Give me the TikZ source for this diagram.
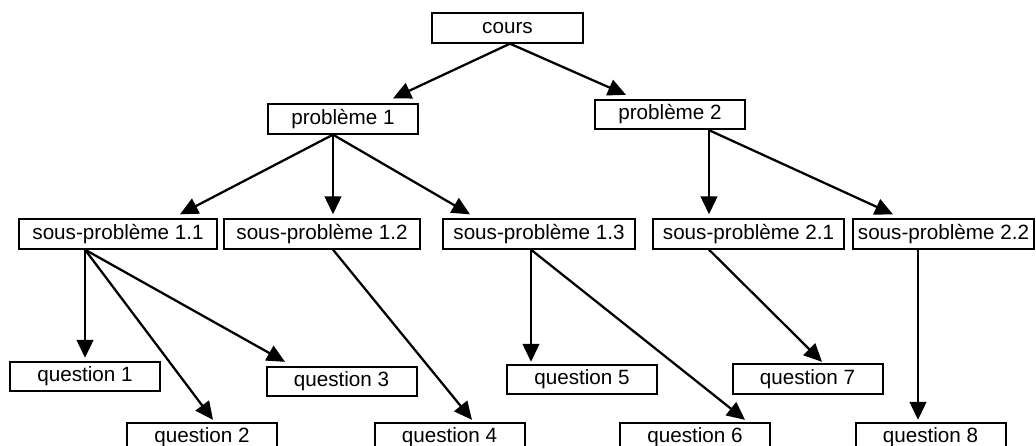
\documentclass[tikz,border=0pt]{standalone}
\usepackage{fontspec}
\setmainfont{Liberation Sans}
\usetikzlibrary{arrows.meta,calc}
\tikzset{
  boite/.style={draw,line width=1.5pt,inner sep=0pt,minimum height=22pt,
    minimum width=112.5pt,font=\fontsize{15.5}{18}\selectfont},
  fleche/.style={line width=1.7pt,-{Triangle[length=13.5pt,width=12.5pt]}}
}
\begin{document}
\begin{tikzpicture}[x=0.75pt,y=-0.75pt]
\clip (0,0) rectangle (1036,446);
\node [boite,minimum width=113.25pt] (c) at (507.5,28) {cours};
\node [boite] (p1) at (343,119) {problème 1};
\node [boite] (p2) at (670,114.5) {problème 2};
\node [boite,minimum width=148.5pt] (sp11) at (118,234) {sous-problème 1.1};
\node [boite,minimum width=147pt] (sp12) at (322,234) {sous-problème 1.2};
\node [boite,minimum width=144pt] (sp13) at (539,234) {sous-problème 1.3};
\node [boite,minimum width=143.25pt] (sp21) at (748.5,234) {sous-problème 2.1};
\node [boite,minimum width=135.75pt] (sp22) at (943.5,234) {sous-problème 2.2};
\node [boite] (q1) at (85,376.5) {question 1};
\node [boite] (q2) at (202,437.5) {question 2};
\node [boite] (q3) at (341.5,381.5) {question 3};
\node [boite] (q4) at (449.5,437.5) {question 4};
\node [boite] (q5) at (582,379.5) {question 5};
\node [boite] (q6) at (695,437.5) {question 6};
\node [boite] (q7) at (807.5,379) {question 7};
\node [boite] (q8) at (930.5,437.5) {question 8};
% niveau 1
\draw [fleche] ($(c.south)+(2.5,0)$) -- ($(p1.north)+(50,-5)$);
\draw [fleche] ($(c.south)+(2.5,0)$) -- ($(p2.north)+(-44,-4)$);
% niveau 2
\draw [fleche] ($(p1.south)+(-10,0)$) -- ($(sp11.north)+(62,-4)$);
\draw [fleche] ($(p1.south)+(-10,0)$) -- ($(sp12.north)+(11,-4)$);
\draw [fleche] ($(p1.south)+(-10,0)$) -- ($(sp13.north)+(-69,-4)$);
\draw [fleche] ($(p2.south)+(39,0)$) -- ($(sp21.north)+(-39.5,-4)$);
\draw [fleche] ($(p2.south)+(39,0)$) -- ($(sp22.north)+(-50.5,-4)$);
% questions
\draw [fleche] ($(sp11.south)+(-33,0)$) -- ($(q1.north)+(0,-3)$);
\draw [fleche] ($(sp11.south)+(-33,0)$) -- ($(q2.north)+(11,-2)$);
\draw [fleche] ($(sp11.south)+(-33,0)$) -- ($(q3.north)+(-56.5,-4)$);
\draw [fleche] ($(sp12.south)+(11,0)$) -- ($(q4.north)+(22.5,-2)$);
\draw [fleche] ($(sp13.south)+(-8,0)$) -- ($(q5.north)+(-51,-2)$);
\draw [fleche] ($(sp13.south)+(-8,0)$) -- ($(q6.north)+(50,-2)$);
\draw [fleche] ($(sp21.south)+(-39.5,0)$) -- ($(q7.north)+(14.5,-1.5)$);
\draw [fleche] ($(sp22.south)+(-25.5,0)$) -- ($(q8.north)+(-12.5,-2)$);
\end{tikzpicture}
\end{document}
